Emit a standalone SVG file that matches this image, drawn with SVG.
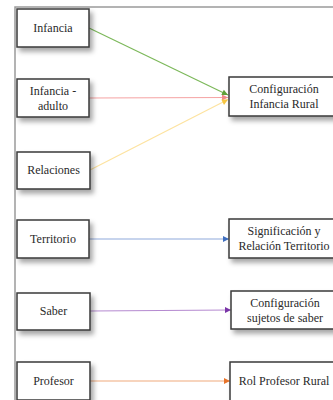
<svg xmlns="http://www.w3.org/2000/svg" width="333" height="400" viewBox="0 0 333 400">
  <defs>
    <filter id="sh" x="-20%" y="-20%" width="150%" height="170%">
      <feDropShadow dx="3" dy="4" stdDeviation="2.5" flood-color="#000" flood-opacity="0.35"/>
    </filter>
    <marker id="aG" viewBox="0 0 10 10" refX="10" refY="5" markerWidth="7" markerHeight="6" markerUnits="userSpaceOnUse" orient="auto"><path d="M0,0 L10,5 L0,10 z" fill="#5fa03a"/></marker>
    <marker id="aR" viewBox="0 0 10 10" refX="10" refY="5" markerWidth="7" markerHeight="6" markerUnits="userSpaceOnUse" orient="auto"><path d="M0,0 L10,5 L0,10 z" fill="#f08a8a"/></marker>
    <marker id="aY" viewBox="0 0 10 10" refX="10" refY="5" markerWidth="7" markerHeight="6" markerUnits="userSpaceOnUse" orient="auto"><path d="M0,0 L10,5 L0,10 z" fill="#f5c542"/></marker>
    <marker id="aB" viewBox="0 0 10 10" refX="10" refY="5" markerWidth="7" markerHeight="6" markerUnits="userSpaceOnUse" orient="auto"><path d="M0,0 L10,5 L0,10 z" fill="#3f6fc0"/></marker>
    <marker id="aP" viewBox="0 0 10 10" refX="10" refY="5" markerWidth="7" markerHeight="6" markerUnits="userSpaceOnUse" orient="auto"><path d="M0,0 L10,5 L0,10 z" fill="#7a35a8"/></marker>
    <marker id="aO" viewBox="0 0 10 10" refX="10" refY="5" markerWidth="7" markerHeight="6" markerUnits="userSpaceOnUse" orient="auto"><path d="M0,0 L10,5 L0,10 z" fill="#e8742a"/></marker>
  </defs>
  <style>
    .box { fill: #ffffff; stroke: #3a3a3a; stroke-width: 1.5; filter: url(#sh); }
    .t { font-family: 'Liberation Serif', 'DejaVu Serif', 'Times New Roman', serif; font-size: 12px; fill: #2a2a2a; text-anchor: middle; }
    .c { fill: none; stroke-width: 1.2; }
    .frame { stroke: #9a9a9a; stroke-width: 1.5; fill: none; }
  </style>
  <rect x="0" y="0" width="333" height="400" fill="#ffffff"/>
  <path class="frame" d="M15,400 L15,7 L333,7"/>

  <g id="connectors">
    <line class="c" x1="89" y1="28" x2="228" y2="95" stroke="#7cb85a" marker-end="url(#aG)"/>
    <line class="c" x1="89" y1="98" x2="228" y2="97.5" stroke="#f5a3a3" marker-end="url(#aR)"/>
    <line class="c" x1="90" y1="170" x2="228" y2="99.5" stroke="#fde3a0" marker-end="url(#aY)"/>
    <line class="c" x1="89" y1="239" x2="229" y2="239" stroke="#8fa9dc" marker-end="url(#aB)"/>
    <line class="c" x1="90" y1="311" x2="231" y2="310" stroke="#b58ad0" marker-end="url(#aP)"/>
    <line class="c" x1="90" y1="381" x2="230" y2="381" stroke="#f0aa7c" marker-end="url(#aO)"/>
  </g>

  <g id="infancia">
    <rect class="box" x="17" y="9" width="72" height="38"/>
    <text class="t" x="53" y="32" font-family="Liberation Serif">Infancia</text>
  </g>
  <g id="infancia-adulto">
    <rect class="box" x="17" y="79" width="72" height="38"/>
    <text class="t" x="53" y="95">Infancia -</text>
    <text class="t" x="53" y="110">adulto</text>
  </g>
  <g id="relaciones">
    <rect class="box" x="17" y="152" width="73" height="37"/>
    <text class="t" x="53.5" y="174">Relaciones</text>
  </g>
  <g id="territorio">
    <rect class="box" x="17" y="220" width="72" height="38"/>
    <text class="t" x="53" y="243">Territorio</text>
  </g>
  <g id="saber">
    <rect class="box" x="17" y="293" width="73" height="37"/>
    <text class="t" x="53.5" y="315">Saber</text>
  </g>
  <g id="profesor">
    <rect class="box" x="17" y="362" width="73" height="38"/>
    <text class="t" x="53.5" y="385">Profesor</text>
  </g>

  <g id="configuracion-infancia-rural">
    <rect class="box" x="229" y="77" width="115" height="39"/>
    <text class="t" x="284" y="93">Configuración</text>
    <text class="t" x="284" y="108">Infancia Rural</text>
  </g>
  <g id="significacion-territorio">
    <rect class="box" x="229" y="219" width="115" height="39"/>
    <text class="t" x="284" y="235">Significación y</text>
    <text class="t" x="284" y="250">Relación Territorio</text>
  </g>
  <g id="configuracion-sujetos">
    <rect class="box" x="231" y="291" width="113" height="38"/>
    <text class="t" x="285" y="307">Configuración</text>
    <text class="t" x="285" y="322">sujetos de saber</text>
  </g>
  <g id="rol-profesor-rural">
    <rect class="box" x="230" y="362" width="114" height="39"/>
    <text class="t" x="284" y="385">Rol Profesor Rural</text>
  </g>
</svg>
